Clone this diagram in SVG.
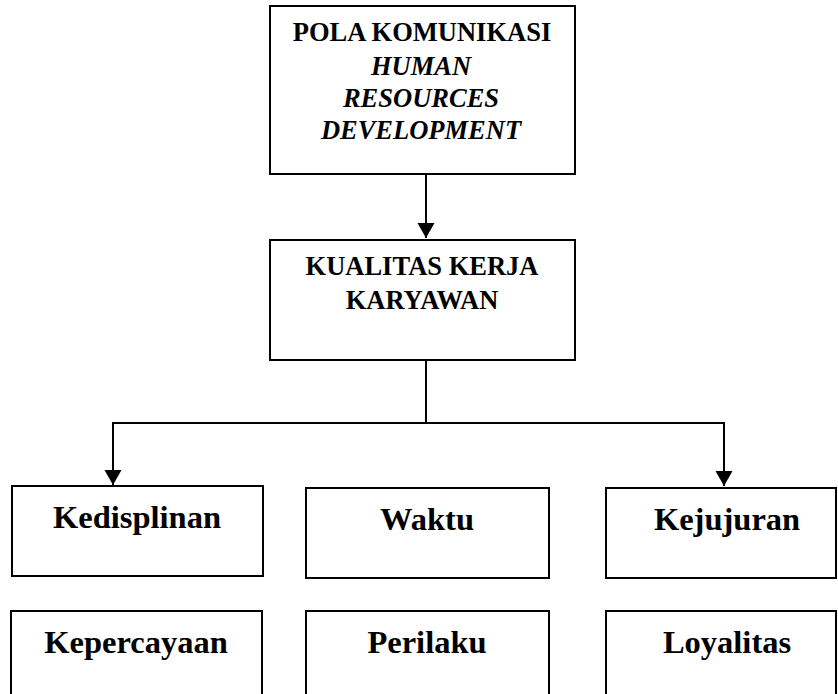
<svg xmlns="http://www.w3.org/2000/svg" width="838" height="694" viewBox="0 0 838 694">
<style>
.box{fill:#fff;stroke:#000;stroke-width:2}
.t{font-family:"Liberation Serif","Times New Roman",serif;font-weight:bold;fill:#000;text-anchor:middle}
.hd{font-size:26.5px}
.lb{font-size:32.5px}
.i{font-style:italic}
.c{fill:none;stroke:#000;stroke-width:2}
</style>
<defs>
<marker id="ah" markerUnits="userSpaceOnUse" markerWidth="16" markerHeight="18" refX="15" refY="8.5" orient="auto">
<path d="M0,0 L15,8.5 L0,17 Z" fill="#000"/>
</marker>
</defs>
<g id="n-pola">
<rect class="box" x="270" y="6" width="305" height="168"/>
<text class="t hd" x="422" y="41">POLA KOMUNIKASI</text>
<text class="t hd i" x="421" y="75">HUMAN</text>
<text class="t hd i" x="421" y="107">RESOURCES</text>
<text class="t hd i" x="421" y="139">DEVELOPMENT</text>
</g>
<g id="n-kualitas">
<rect class="box" x="270" y="240" width="305" height="120"/>
<text class="t hd" x="422" y="275">KUALITAS KERJA</text>
<text class="t hd" x="422" y="309">KARYAWAN</text>
</g>
<g id="n-kedisplinan">
<rect class="box" x="12" y="486" width="251" height="90"/>
<text class="t lb" x="137" y="528">Kedisplinan</text>
</g>
<g id="n-waktu">
<rect class="box" x="306" y="488" width="243" height="90"/>
<text class="t lb" x="427" y="530">Waktu</text>
</g>
<g id="n-kejujuran">
<rect class="box" x="606" y="488" width="230" height="90"/>
<text class="t lb" x="727" y="530">Kejujuran</text>
</g>
<g id="n-kepercayaan">
<rect class="box" x="11" y="611" width="251" height="100"/>
<text class="t lb" x="136" y="653">Kepercayaan</text>
</g>
<g id="n-perilaku">
<rect class="box" x="306" y="611" width="243" height="100"/>
<text class="t lb" x="427" y="653">Perilaku</text>
</g>
<g id="n-loyalitas">
<rect class="box" x="606" y="611" width="230" height="100"/>
<text class="t lb" x="727" y="653">Loyalitas</text>
</g>
<g id="connectors">
<line class="c" x1="426" y1="174" x2="426" y2="238" marker-end="url(#ah)"/>
<line class="c" x1="426" y1="360" x2="426" y2="423"/>
<path class="c" d="M426,423 H113 V485" marker-end="url(#ah)"/>
<path class="c" d="M426,423 H724 V486" marker-end="url(#ah)"/>
</g>
</svg>
